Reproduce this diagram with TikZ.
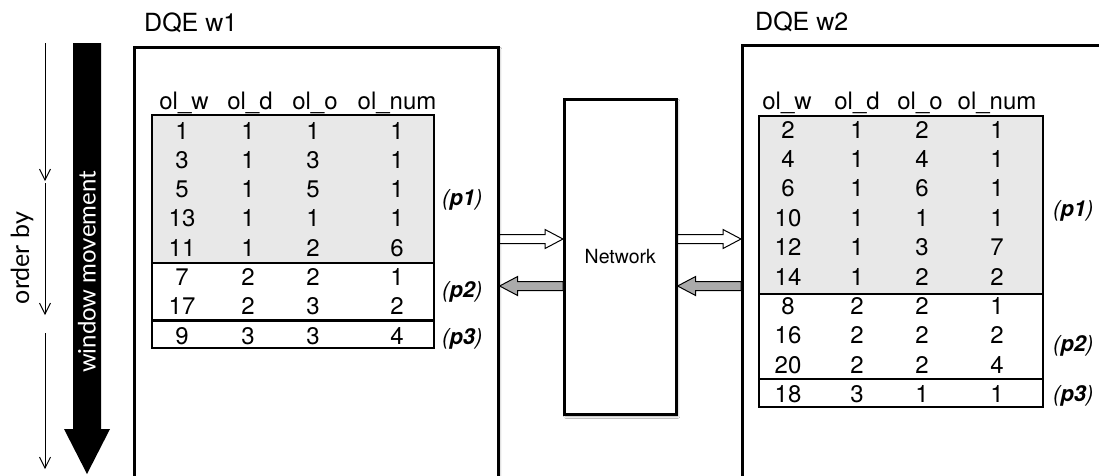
\documentclass[tikz,border=0pt]{standalone}
\usepackage{fontspec}
\setmainfont{TeX Gyre Heros}
\newfontfamily\gillfont{Lato}
\usetikzlibrary{arrows.meta,calc,shadows.blur}

\tikzset{
  frame/.style={draw, line width=2.6pt, fill=white, inner sep=0pt, anchor=north west,
    blur shadow={shadow xshift=1.5pt, shadow yshift=-2pt, shadow blur steps=6, shadow opacity=35}},
  tbl/.style={draw, line width=2.6pt},
  shaded/.style={tbl, fill=black!9},
  cell/.style={anchor=base, inner sep=0pt, font=\fontsize{24}{28}\selectfont},
  plabel/.style={anchor=base west, inner sep=0pt, font=\fontsize{22}{26}\selectfont\itshape},
  title/.style={anchor=base west, inner sep=0pt, font=\fontsize{25}{30}\selectfont},
  thinarrow/.style={line width=0.9pt, -{Straight Barb[length=11pt,width=11pt]}},
  blockarrow/.style={draw, line width=1pt, line join=miter},
}

% horizontal block arrow from #1 to #2, filled with #3
\newcommand\hblockarrow[3]{%
  \path[blockarrow, fill=#3] let \p1=#1, \p2=#2, \n1={sign(\x2-\x1)} in
    ($(\x1,\y1)+(0pt,4.5pt)$) -- ($(\x2,\y2)+(-\n1*18pt,4.5pt)$) --
    ($(\x2,\y2)+(-\n1*18pt,9.5pt)$) -- (\x2,\y2) --
    ($(\x2,\y2)+(-\n1*18pt,-9.5pt)$) -- ($(\x2,\y2)+(-\n1*18pt,-4.5pt)$) --
    ($(\x1,\y1)+(0pt,-4.5pt)$) -- cycle;
}

\begin{document}
\begin{tikzpicture}[x=1pt,y=-1pt]
\clip (0,0) rectangle (1099,475);
\fill[white] (0,0) rectangle (1099,475);

% processing engines and the network between them
\node[frame, minimum width=364pt, minimum height=460pt] (w1) at (133,46) {};
\node[frame, minimum width=420pt, minimum height=460pt] (w2) at (741,44) {};
\node[frame, minimum width=112pt, minimum height=315pt] (net) at (563,98) {};
\node[font=\fontsize{19.5}{23}\selectfont] (netlabel) at (net.center) {Network};

\node[title] (t1) at (144,31) {DQE w1};
\node[title] (t2) at (755,30) {DQE w2};

% traffic between the engines and the network
\coordinate (send) at (0,239);
\coordinate (recv) at (0,286);
\hblockarrow{(w1.east |- send)}{(net.west |- send)}{white}
\hblockarrow{(net.west |- recv)}{(w1.east |- recv)}{black!33}
\hblockarrow{(net.east |- send)}{(w2.west |- send)}{white}
\hblockarrow{(w2.west |- recv)}{(net.east |- recv)}{black!33}

% sort order and window movement
\coordinate (o0) at (45,43);
\coordinate (o1) at (45,181);
\coordinate (o2) at (45,183);
\coordinate (o3) at (45,315);
\coordinate (o4) at (45,333);
\coordinate (o5) at (45,469);
\draw[thinarrow] (o0) -- (o1);
\draw[thinarrow] (o2) -- (o3);
\draw[thinarrow] (o4) -- (o5);
\node[rotate=90, font=\fontsize{25}{28}\gillfont] (orderby) at (22,258) {order by};

\fill (73,43) -- (101,43) -- (101,429) -- (110,429) -- (87,474) -- (64,429) -- (73,429) -- cycle;
\node[rotate=90, text=white, font=\fontsize{24}{28}\gillfont] (winmove) at (87,272) {window movement};

% partitions of engine w1
\draw[shaded] (152,115) rectangle (434,263);
\draw[tbl] (152,263) rectangle (434,320.5);
\draw[tbl] (152,320.5) rectangle (434,348);

\node[cell] (h1a) at (184,109) {ol\_w};
\node[cell] (h1b) at (250,109) {ol\_d};
\node[cell] (h1c) at (315,109) {ol\_o};
\node[cell] (h1d) at (397,109) {ol\_num};

\foreach \a/\b/\c/\d [count=\k from 0] in
  {1/1/1/1, 3/1/3/1, 5/1/5/1, 13/1/1/1, 11/1/2/6, 7/2/2/1, 17/2/3/2, 9/3/3/4} {
  \node[cell] (L\k a) at (182,{139+29.3*\k}) {\a};
  \node[cell] (L\k b) at (248,{139+29.3*\k}) {\b};
  \node[cell] (L\k c) at (313,{139+29.3*\k}) {\c};
  \node[cell] (L\k d) at (397,{139+29.3*\k}) {\d};
}

\node[plabel] (lp1) at (442,205) {(\textbf{p1})};
\node[plabel] (lp2) at (442,297) {(\textbf{p2})};
\node[plabel] (lp3) at (442,344) {(\textbf{p3})};

% partitions of engine w2
\draw[shaded] (759,116) rectangle (1043,294);
\draw[tbl] (759,294) rectangle (1043,379);
\draw[tbl] (759,379) rectangle (1043,407);

\node[cell] (h2a) at (787,109) {ol\_w};
\node[cell] (h2b) at (857,109) {ol\_d};
\node[cell] (h2c) at (920,109) {ol\_o};
\node[cell] (h2d) at (997,109) {ol\_num};

\foreach \a/\b/\c/\d [count=\k from 0] in
  {2/1/2/1, 4/1/4/1, 6/1/6/1, 10/1/1/1, 12/1/3/7, 14/1/2/2, 8/2/2/1, 16/2/2/2, 20/2/2/4, 18/3/1/1} {
  \node[cell] (R\k a) at (788,{138+29.4*\k}) {\a};
  \node[cell] (R\k b) at (857,{138+29.4*\k}) {\b};
  \node[cell] (R\k c) at (922,{138+29.4*\k}) {\c};
  \node[cell] (R\k d) at (997,{138+29.4*\k}) {\d};
}

\node[plabel] (rp1) at (1053,216) {(\textbf{p1})};
\node[plabel] (rp2) at (1053,351) {(\textbf{p2})};
\node[plabel] (rp3) at (1053,401) {(\textbf{p3})};
\end{tikzpicture}
\end{document}
